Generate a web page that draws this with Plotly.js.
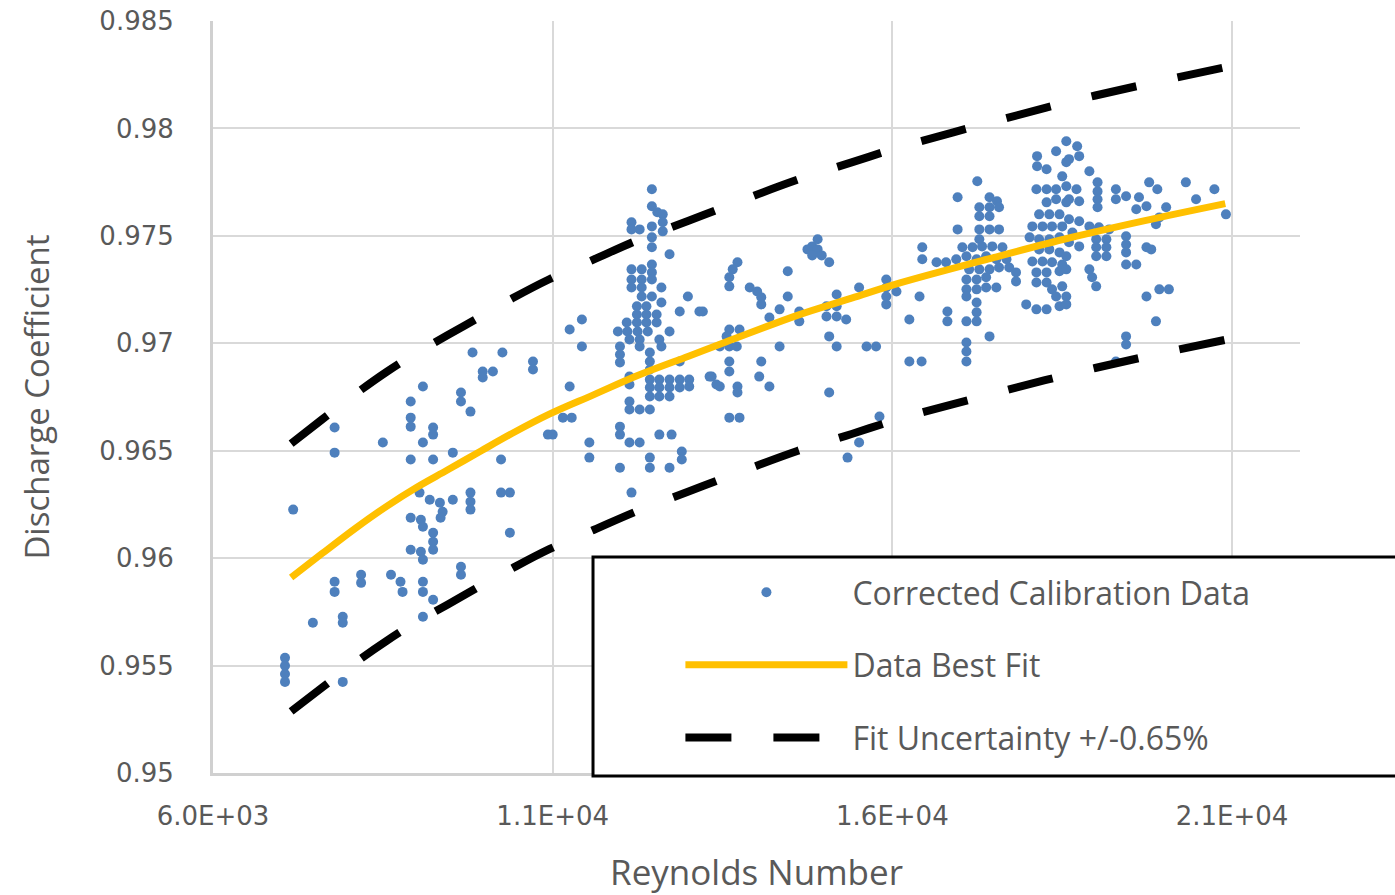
<!DOCTYPE html>
<html>
<head>
<meta charset="utf-8">
<script src="https://cdn.plot.ly/plotly-3.0.1.min.js"></script>
<style>html,body{margin:0;padding:0;background:#fff;}#chart{width:1395px;height:895px;}</style>
</head>
<body>
<div id="chart"></div>
<script>
// ---- Data ----
const reynolds = [
 9820,10260,9970,10120,9970,9090,8910,9650,9650,9790,7790,8910,8910,9240,9240,8500,9090,7790,8910,9240,9530,10240,7180,9040,9190,9340,9380,9350,9530,9790,9790,9790,10240,10370,8910,9060,9090,9240,9240,9240,8910,9060,9090,10370,7790,7790,8180,8180,8620,8760,8790,9090,9090,9240,9650,9650,9090,7470,7910,7910,7060,7060,7060,7060,7910,10710,10710,10930,
 11250,11430,11430,11250,11150,11280,11000,11540,11540,11990,11990,12130,12280,11990,12160,12430,12430,12570,12750,12900,12900,12720,
 12460,12460,12540,12620,12160,12160,12280,12460,12620,12620,12460,12460,12720,12460,12160,12310,12460,12160,12310,12460,12160,12310,12600,12310,12460,12600,12990,12870,13160,12240,12380,12240,12380,12530,12090,12240,12380,12530,11960,12100,12250,12400,12720,12130,12280,12570,11990,11990,11990,12280,12430,12600,12430,12430,12870,12130,12130,12430,12570,12720,12870,13010,12430,12570,12720,12870,13010,12430,12570,12720,12130,12130,12280,12430,13310,13410,
 14900,14820,14750,14900,14820,14960,15070,13720,13650,13600,13600,14460,13900,14010,14070,14070,14460,13210,14340,14190,14630,14630,15180,15030,15180,15030,15180,15320,15510,15910,15910,15910,15910,16060,13600,13750,13560,13460,13600,13710,14340,15070,15180,15620,15760,13600,13600,14070,13340,13460,13720,13720,14040,14190,15070,13600,13750,15810,15510,15340,
 17250,16960,17430,17540,17280,17430,17570,17280,17430,16960,17280,17430,17570,17280,16440,17030,17180,17320,17470,17620,16440,16650,16790,16940,17090,17240,17380,17530,17680,17130,17280,17430,17570,17720,17820,17820,17090,17240,17380,16400,17090,17090,17240,17380,17530,17240,17240,16810,16810,17090,17240,17430,17090,17090,17090,16430,16250,16250,
 18130,18130,18270,18410,18560,18500,18120,18270,18410,18560,18270,18410,18560,18160,18310,18460,18060,18210,18350,18500,18020,18160,18310,18460,18160,18310,18460,18060,18210,18350,18500,18120,18270,18460,18120,18270,18350,18500,17970,18120,18270,18410,18460,
 18560,18720,18750,18600,18900,19020,19020,19020,19020,18710,18600,18750,19290,19290,19440,19630,19590,19740,19780,19900,20030,19930,19880,20320,20470,18600,18750,18900,19040,19190,18650,18600,18750,18560,19000,19150,19000,19150,19000,19150,19440,19440,19440,19440,19590,19740,18560,18900,18940,19000,18560,18560,19740,19930,20070,19880,19440,19440,19290,20740,20910,19810
];
const dischargeCoef = [
 0.96957,0.96957,0.96869,0.96869,0.96841,0.96799,0.96729,0.96771,0.96729,0.96682,0.96608,0.96654,0.96612,0.96608,0.96575,0.96538,0.96538,0.96491,0.96459,0.96459,0.96491,0.96459,0.96226,0.96305,0.96272,0.96258,0.96216,0.96188,0.96272,0.96305,0.96263,0.96226,0.96305,0.96305,0.96188,0.96179,0.96146,0.96118,0.96076,0.96039,0.96039,0.96030,0.95993,0.96118,0.95890,0.95843,0.95923,0.95885,0.95923,0.95890,0.95843,0.95890,0.95843,0.95806,0.95960,0.95923,0.95727,0.95699,0.95727,0.95699,0.95536,0.95499,0.95461,0.95424,0.95424,0.96915,0.96878,0.96575,
 0.97064,0.97111,0.96985,0.96799,0.96654,0.96654,0.96575,0.96538,0.96468,0.96612,0.96575,0.96538,0.96538,0.96421,0.96305,0.96468,0.96421,0.96575,0.96575,0.96496,0.96459,0.96421,
 0.97717,0.97638,0.97610,0.97600,0.97563,0.97530,0.97530,0.97544,0.97563,0.97521,0.97493,0.97447,0.97414,0.97367,0.97344,0.97344,0.97330,0.97297,0.97297,0.97297,0.97260,0.97260,0.97260,0.97218,0.97218,0.97190,0.97218,0.97148,0.97148,0.97172,0.97172,0.97134,0.97134,0.97134,0.97097,0.97097,0.97097,0.97097,0.97055,0.97055,0.97055,0.97055,0.97055,0.97018,0.97018,0.97018,0.96985,0.96948,0.96911,0.96985,0.96957,0.96985,0.96915,0.96878,0.96915,0.96845,0.96808,0.96831,0.96831,0.96831,0.96831,0.96831,0.96794,0.96794,0.96794,0.96794,0.96799,0.96752,0.96752,0.96752,0.96729,0.96692,0.96692,0.96692,0.96845,0.96808,
 0.97484,0.97451,0.97437,0.97437,0.97409,0.97409,0.97377,0.97377,0.97344,0.97307,0.97265,0.97335,0.97260,0.97241,0.97214,0.97181,0.97218,0.97148,0.97158,0.97120,0.97148,0.97102,0.97227,0.97172,0.97172,0.97125,0.97125,0.97111,0.97260,0.97297,0.97260,0.97218,0.97181,0.97241,0.97064,0.97064,0.97032,0.96985,0.96985,0.96985,0.96985,0.97032,0.96985,0.96985,0.96985,0.96915,0.96869,0.96915,0.96845,0.96799,0.96799,0.96771,0.96845,0.96799,0.96771,0.96654,0.96654,0.96659,0.96538,0.96468,
 0.97754,0.97680,0.97680,0.97661,0.97633,0.97633,0.97633,0.97591,0.97591,0.97530,0.97530,0.97530,0.97530,0.97484,0.97447,0.97447,0.97447,0.97451,0.97451,0.97447,0.97391,0.97377,0.97377,0.97391,0.97405,0.97391,0.97405,0.97391,0.97391,0.97344,0.97344,0.97344,0.97353,0.97353,0.97330,0.97288,0.97297,0.97297,0.97307,0.97218,0.97251,0.97218,0.97251,0.97260,0.97260,0.97190,0.97144,0.97148,0.97102,0.97102,0.97102,0.97032,0.97004,0.96962,0.96915,0.96915,0.96915,0.97111,
 0.97871,0.97824,0.97810,0.97894,0.97843,0.97777,0.97717,0.97717,0.97717,0.97731,0.97656,0.97670,0.97656,0.97600,0.97600,0.97600,0.97544,0.97544,0.97544,0.97544,0.97493,0.97484,0.97484,0.97493,0.97437,0.97437,0.97423,0.97381,0.97381,0.97377,0.97367,0.97330,0.97330,0.97335,0.97283,0.97283,0.97251,0.97265,0.97181,0.97158,0.97158,0.97218,0.97172,
 0.97940,0.97917,0.97871,0.97857,0.97801,0.97749,0.97707,0.97670,0.97633,0.97717,0.97670,0.97661,0.97717,0.97670,0.97684,0.97680,0.97624,0.97638,0.97749,0.97717,0.97633,0.97586,0.97554,0.97749,0.97670,0.97577,0.97568,0.97544,0.97540,0.97530,0.97516,0.97470,0.97451,0.97405,0.97484,0.97484,0.97447,0.97447,0.97405,0.97405,0.97498,0.97460,0.97423,0.97367,0.97367,0.97447,0.97344,0.97344,0.97307,0.97265,0.97218,0.97181,0.97218,0.97251,0.97251,0.97102,0.97032,0.96994,0.96915,0.97717,0.97600,0.97437
];
const fitRe   = [7150,7600,8100,8550,9000,9450,9950,10400,10950,11600,12250,13000,13500,14600,15400,16100,17500,18600,19700,20900];
const fitCd   = [0.9591,0.9602,0.9614,0.9624,0.9633,0.9641,0.9650,0.9658,0.9667,0.9676,0.9685,0.9694,0.9700,0.9713,0.9721,0.9728,0.9740,0.9749,0.9757,0.9765];
const upperCd = [0.96533,0.96644,0.96765,0.96866,0.96956,0.97037,0.97127,0.97208,0.97298,0.97389,0.97480,0.97570,0.97631,0.97761,0.97842,0.97912,0.98033,0.98124,0.98204,0.98285];
const lowerCd = [0.95287,0.95396,0.95515,0.95614,0.95704,0.95783,0.95873,0.95952,0.96042,0.96131,0.96220,0.96310,0.96370,0.96499,0.96578,0.96648,0.96767,0.96856,0.96936,0.97016];

const xTickVals = [6000, 11000, 16000, 21000];
const xTickText = ['6.0E+03', '1.1E+04', '1.6E+04', '2.1E+04'];
const yTickVals = [0.95, 0.955, 0.96, 0.965, 0.97, 0.975, 0.98, 0.985];
const yTickText = ['0.95', '0.955', '0.96', '0.965', '0.97', '0.975', '0.98', '0.985'];

const seriesNames = ['Corrected Calibration Data', 'Data Best Fit', 'Fit Uncertainty +/-0.65%'];

const tickFont = {family: 'DejaVu Sans', size: 26, color: '#595959'};

const traces = [
  {x: reynolds, y: dischargeCoef, type: 'scatter', mode: 'markers', name: seriesNames[0],
   legendgroup: 'a', legendrank: 1,
   marker: {color: '#4E80BD', size: 10}},
  {x: fitRe, y: upperCd, type: 'scatter', mode: 'lines', name: seriesNames[2],
   legendgroup: 'c', legendrank: 3,
   line: {color: '#000000', width: 8, dash: '46px,42px', shape: 'spline'}},
  {x: fitRe, y: lowerCd, type: 'scatter', mode: 'lines', name: seriesNames[2],
   legendgroup: 'c', showlegend: false,
   line: {color: '#000000', width: 8, dash: '46px,42px', shape: 'spline'}},
  {x: fitRe, y: fitCd, type: 'scatter', mode: 'lines', name: seriesNames[1],
   legendgroup: 'b', legendrank: 2,
   line: {color: '#FFC000', width: 7, shape: 'spline'}}
];

const layout = {
  width: 1395, height: 895,
  margin: {l: 213, r: 95, t: 21, b: 122},
  paper_bgcolor: '#ffffff', plot_bgcolor: '#ffffff',
  showlegend: true,
  xaxis: {
    range: [6000, 22000], tickvals: xTickVals, ticktext: xTickText,
    showgrid: true, gridcolor: '#D9D9D9', gridwidth: 2,
    showline: true, linecolor: '#D0D0D0', linewidth: 3,
    zeroline: false, ticks: '', tickfont: tickFont, ticklabelstandoff: 18,
    title: {text: 'Reynolds Number', font: {family: 'Open Sans', size: 35, color: '#595959'}, standoff: 34}
  },
  yaxis: {
    range: [0.95, 0.985], tickvals: yTickVals, ticktext: yTickText,
    showgrid: true, gridcolor: '#D9D9D9', gridwidth: 2,
    showline: true, linecolor: '#D0D0D0', linewidth: 3,
    zeroline: false, ticks: '', tickfont: tickFont, ticklabelstandoff: 31,
    title: {text: 'Discharge Coefficient', font: {family: 'Open Sans', size: 33, color: '#595959'}, standoff: 40}
  },
  legend: {
    x: 0.430, y: 0.2767, xanchor: 'left', yanchor: 'top',
    bgcolor: 'rgba(0,0,0,0)', borderwidth: 0,
    font: {family: 'Open Sans', size: 32, color: '#595959'},
    itemwidth: 162, tracegroupgap: 28, traceorder: 'grouped'
  },
  shapes: [{
    type: 'rect', xref: 'paper', yref: 'paper',
    x0: 0.3496, x1: 1.092, y0: -0.004, y1: 0.2872,
    line: {color: '#000000', width: 3}, fillcolor: '#ffffff', layer: 'above'
  }]
};

Plotly.newPlot('chart', traces, layout, {displayModeBar: false, staticPlot: true});
</script>
</body>
</html>
